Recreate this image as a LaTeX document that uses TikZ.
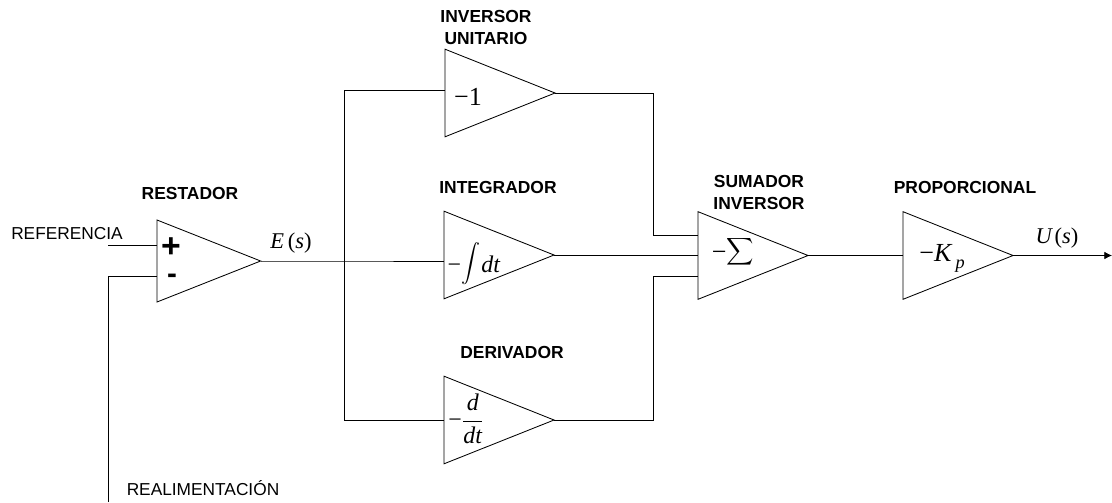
\documentclass[tikz,border=0pt]{standalone}
\usepackage{fontspec}
\setmainfont{Liberation Sans}
\newfontfamily\timesfont{Liberation Serif}
\usetikzlibrary{shapes.geometric,arrows.meta}
\begin{document}
\begin{tikzpicture}[x=0.025cm,y=-0.025cm,amp node/.style={draw, line width=0.6pt, isosceles triangle, isosceles triangle stretches, shape border rotate=0, anchor=lower side, inner sep=0pt, outer sep=0pt, minimum height=2.75cm, minimum width=2.19cm},title node/.style={font=\fontsize{12.4}{15}\selectfont\bfseries, align=center, inner sep=0pt},signal node/.style={font=\fontsize{12.3}{15}\selectfont, inner sep=0pt},gain node/.style={font=\timesfont\fontsize{18.5}{22}\selectfont, inner sep=0pt},port node/.style={font=\timesfont\fontsize{16}{18}\selectfont, inner sep=0pt},wire/.style={draw, line width=0.6pt}]%
\path[use as bounding box] (0,0) rectangle (1112,502);%
  % Restador%
\node[amp node, minimum height=2.59cm, minimum width=2.05cm] (res) at (157,261) {};%
\node[title node] (restitle) at (190,193) {RESTADOR};%
\node[font=\fontsize{24}{26}\selectfont\bfseries, inner sep=0pt, text height=14pt, text depth=0pt] (resplus) at (171,248) {+};%
\node[font=\fontsize{21}{24}\selectfont\bfseries, inner sep=0pt, text height=8pt, text depth=0pt] (resminus) at (172,278) {-};%
\node[signal node] (reflabel) at (67,234) {REFERENCIA};%
\node[signal node] (fblabel) at (203,488) {REALIMENTACIÓN};%
\node[port node] (errlabel) at (291,243) {\textit{E}\,(\textit{s})};%
  % Inversor unitario%
\node[amp node] (inv) at (445,93) {};%
\node[title node] (invtitle) at (486,27.5) {INVERSOR\\UNITARIO};%
\node[gain node] (invgain) at (468,97) {−1};%
  % Integrador%
\node[amp node] (int) at (444,255) {};%
\node[title node] (inttitle) at (498,187) {INTEGRADOR};%
\node[port node, font=\timesfont\fontsize{17}{20}\selectfont] (intgain) at (474,264) {−\scalebox{1.35}{$\displaystyle\int$}\kern1pt\textit{dt}};%
  % Derivador%
\node[amp node] (der) at (444,420) {};%
\node[title node] (dertitle) at (512,352) {DERIVADOR};%
\node[port node, font=\timesfont\fontsize{17}{20}\selectfont] (dergain) at (466,419) {−$\displaystyle\frac{\hbox{\timesfont\itshape d}}{\hbox{\timesfont\itshape dt}}$};%
  % Sumador inversor%
\node[amp node] (sum) at (698,255.5) {};%
\node[title node] (sumtitle) at (759,192.5) {SUMADOR\\INVERSOR};%
\node[gain node] (sumgain) at (733,252) {−\scalebox{1.35}{$\displaystyle\sum$}};%
  % Proporcional%
\node[amp node] (prop) at (903,255.5) {};%
\node[title node] (proptitle) at (965,187) {PROPORCIONAL};%
\node[gain node] (propgain) at (942,258) {−\textit{K}\raisebox{-5pt}{\fontsize{13}{15}\selectfont\textit{\,p}}};%
\node[port node] (outlabel) at (1057,238) {\textit{U}\kern1pt(\textit{s})};%
  % Entradas y ramales%
\coordinate (refstart) at (108,245);%
\coordinate (refin) at (157,245);%
\coordinate (fbstart) at (108,502);%
\coordinate (fbcorner) at (108,276);%
\coordinate (fbin) at (157,276);%
\coordinate (bustop) at (344.5,90);%
\coordinate (busmid) at (344.5,261);%
\coordinate (busbot) at (344.5,420);%
\coordinate (invin) at (445,90);%
\coordinate (intin) at (444,261);%
\coordinate (inva) at (653.5,93);%
\coordinate (invb) at (653.5,235);%
\coordinate (suma) at (698,235);%
\coordinate (sumb) at (698,255);%
\coordinate (dera) at (653.5,420);%
\coordinate (derb) at (653.5,276);%
\coordinate (sumc) at (698,276);%
\coordinate (outend) at (1112,255.5);%
\path[wire] (refstart) -- (refin);%
\path[wire] (fbstart) -- (fbcorner) -- (fbin);%
\path[wire] (res.apex) -- (busmid) -- (intin);%
\path[wire] (invin) -- (bustop) -- (busbot) -- (der.lower side);%
\path[wire] (inv.apex) -- (inva) -- (invb) -- (suma);%
\path[wire] (int.apex) -- (sumb);%
\path[wire] (der.apex) -- (dera) -- (derb) -- (sumc);%
\path[wire] (sum.apex) -- (prop.lower side);%
\path[wire,-{Latex[length=5.5pt,width=5.5pt]}] (prop.apex) -- (outend);%
\end{tikzpicture}
\end{document}
